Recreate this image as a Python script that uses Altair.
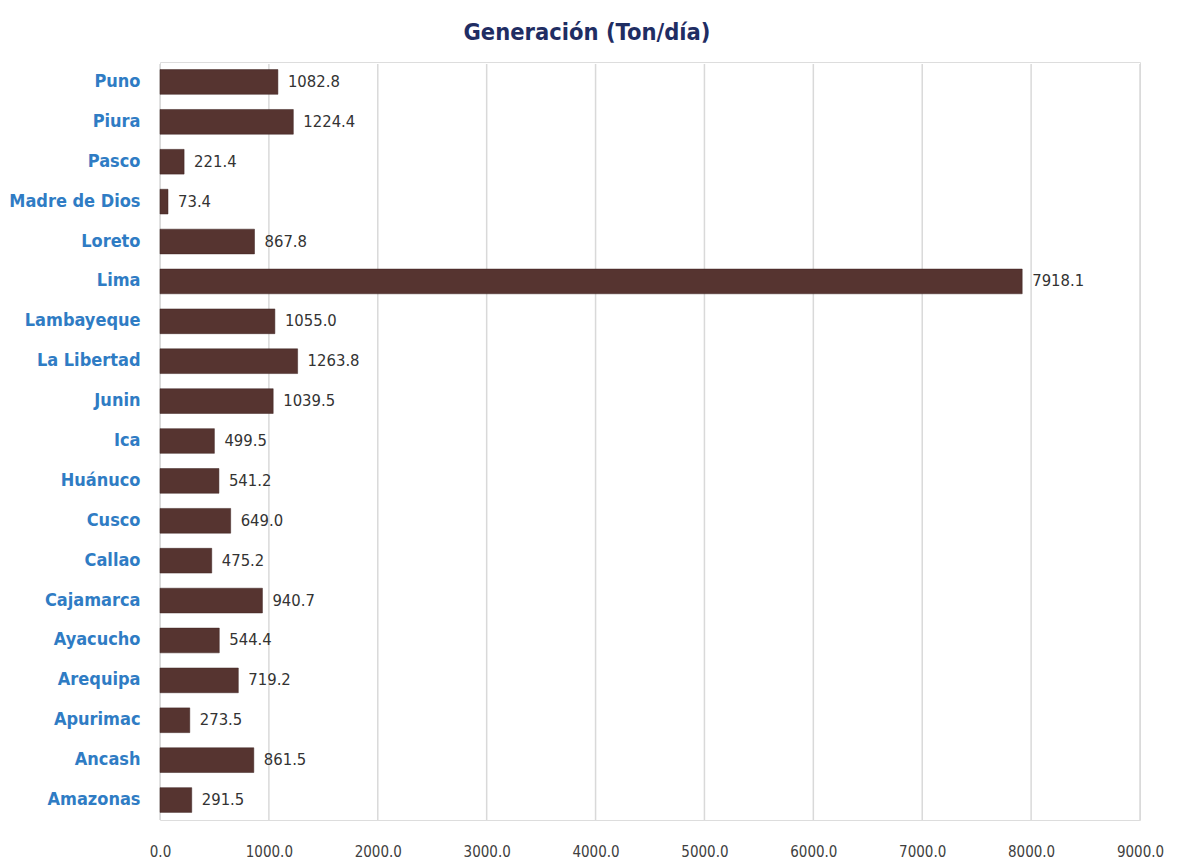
import altair as alt
import pandas as pd

regions = ["Puno", "Piura", "Pasco", "Madre de Dios", "Loreto", "Lima", "Lambayeque",
           "La Libertad", "Junin", "Ica", "Huánuco", "Cusco", "Callao", "Cajamarca",
           "Ayacucho", "Arequipa", "Apurimac", "Ancash", "Amazonas"]
values = [1082.8, 1224.4, 221.4, 73.4, 867.8, 7918.1, 1055.0, 1263.8, 1039.5, 499.5,
          541.2, 649.0, 475.2, 940.7, 544.4, 719.2, 273.5, 861.5, 291.5]
x_ticks = [0, 1000, 2000, 3000, 4000, 5000, 6000, 7000, 8000, 9000]

df = pd.DataFrame({"region": regions, "value": values})
grid_df = pd.DataFrame({"tick": x_ticks})

FONT = "'DejaVu Sans Condensed', 'Liberation Sans Narrow', Roboto, sans-serif"

x = alt.X("value:Q", scale=alt.Scale(domain=[0, 9000], nice=False),
          axis=alt.Axis(values=x_ticks, format=".1f", title=None, domain=False, ticks=False,
                        grid=False, labelFlush=False,
                        labelFont=FONT, labelFontSize=15, labelColor="#404040",
                        labelPadding=24))
y = alt.Y("region:N", sort=regions, scale=alt.Scale(paddingInner=0.38, paddingOuter=0.19),
          axis=alt.Axis(title=None, domain=False, ticks=False, grid=False, labelFont=FONT,
                        labelFontSize=18, labelFontWeight="bold", labelColor="#2f7cc4",
                        labelPadding=20))

grid = alt.Chart(grid_df).mark_rule(color="#d9d9d9", strokeWidth=1.5).encode(
    x=alt.X("tick:Q"), y=alt.value(2), y2=alt.value(758))
bars = alt.Chart(df).mark_bar(color="#563430", stroke="#3e2522", strokeWidth=0.5).encode(x=x, y=y)
labels = alt.Chart(df).mark_text(align="left", dx=10, font=FONT, fontSize=16.5, color="#333333").encode(
    x="value:Q", y=alt.Y("region:N", sort=regions), text=alt.Text("value:Q", format=".1f"))

chart = alt.layer(grid, bars, labels).properties(
    width=980, height=758,
    autosize=alt.AutoSizeParams(type="none"),
    padding={"left": 152, "top": 54, "right": 36, "bottom": 60},
    title=alt.TitleParams("Generación (Ton/día)", font=FONT, fontSize=23.5, fontWeight="bold",
                          color="#1f2d63", anchor="middle", dx=-63, offset=18),
).configure_view(strokeWidth=0, stroke=None).configure(background="white")

chart.save("out.html", embed_options={"renderer": "svg", "actions": False})
